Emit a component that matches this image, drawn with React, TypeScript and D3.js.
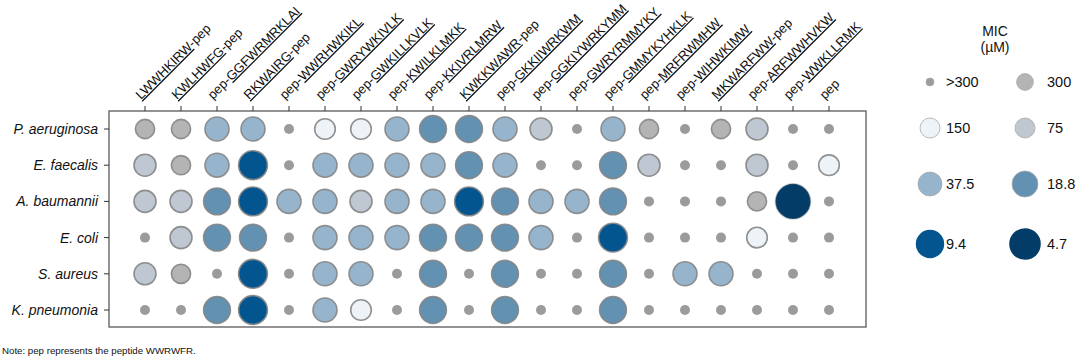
import React from "react";
import * as d3 from "d3";

const peptides = [
  "LWWHKIRW-pep", "KWLHWFG-pep", "pep-GGFWRMRKLAI", "RKWAIRG-pep", "pep-WWRHWKIKL",
  "pep-GWRYWKIVLK", "pep-GWKILLKVLK", "pep-KWILKLMKK", "pep-KKIVRLMRW", "KWKKWAWR-pep",
  "pep-GKKIIWRKWM", "pep-GGKIYWRKYMM", "pep-GWRYRMMYKY", "pep-GMMYKYHKLK", "pep-MRFRWMHW",
  "pep-WIHWKIMW", "MKWARFWW-pep", "pep-ARFWWHVKW", "pep-WWKLLRMK", "pep",
];

const species = ["P. aeruginosa", "E. faecalis", "A. baumannii", "E. coli", "S. aureus", "K. pneumonia"];

const micPAeruginosa = ["300", "300", "37.5", "37.5", ">300", "150", "150", "37.5", "18.8", "18.8", "37.5", "75", ">300", "37.5", "300", ">300", "300", "75", ">300", ">300"];
const micEFaecalis = ["75", "300", "37.5", "9.4", ">300", "37.5", "37.5", "37.5", "37.5", "18.8", "37.5", ">300", ">300", "18.8", "75", ">300", ">300", "75", ">300", "150"];
const micABaumannii = ["75", "75", "18.8", "9.4", "37.5", "37.5", "75", "37.5", "37.5", "9.4", "18.8", "37.5", "37.5", "18.8", ">300", ">300", ">300", "300", "4.7", ">300"];
const micEColi = [">300", "75", "18.8", "18.8", ">300", "37.5", "37.5", "37.5", "18.8", "18.8", "18.8", "37.5", ">300", "9.4", ">300", ">300", ">300", "150", ">300", ">300"];
const micSAureus = ["75", "300", ">300", "9.4", ">300", "37.5", "37.5", ">300", "18.8", ">300", "18.8", ">300", ">300", "18.8", ">300", "37.5", "37.5", ">300", ">300", ">300"];
const micKPneumonia = [">300", ">300", "18.8", "9.4", ">300", "37.5", "150", ">300", "18.8", ">300", "18.8", ">300", ">300", "18.8", ">300", ">300", ">300", ">300", ">300", ">300"];

const micRows = [micPAeruginosa, micEFaecalis, micABaumannii, micEColi, micSAureus, micKPneumonia];

const micLevels = [">300", "300", "150", "75", "37.5", "18.8", "9.4", "4.7"];
const legendPairs = [[">300", "300"], ["150", "75"], ["37.5", "18.8"], ["9.4", "4.7"]];

const FONT = "'Liberation Sans', Arial, Helvetica, sans-serif";

const color = d3.scaleOrdinal<string, string>()
  .domain(micLevels)
  .range(["#9b9b9b", "#b4b4b4", "#eef3f8", "#bfc8d2", "#96b5cd", "#6291b2", "#03558f", "#033c67"]);

const radius = d3.scaleOrdinal<string, number>()
  .domain(micLevels)
  .range([5, 9.6, 10.3, 11, 12, 13.4, 14.4, 17.6]);

const legendRadius = d3.scaleOrdinal<string, number>()
  .domain(micLevels)
  .range([4, 8.4, 10, 10, 12, 13, 14.2, 15.8]);

function splitLabel(label: string): [string, string, string] {
  if (label === "pep") return ["pep", "", ""];
  if (label.startsWith("pep-")) return ["pep-", label.slice(4), ""];
  if (label.endsWith("-pep")) return ["", label.slice(0, -4), "-pep"];
  return ["", label, ""];
}

export default function App() {
  const W = 1080, H = 358;
  const box = { x0: 109, y0: 111, x1: 866, y1: 327 };

  const x = d3.scalePoint<string>().domain(peptides).range([145, 829]);
  const y = d3.scalePoint<string>().domain(species).range([129, 310]);

  const legendX = [930, 1025];
  const legendY = d3.scaleOrdinal<number, number>().domain([0, 1, 2, 3]).range([82, 128, 184, 244]);

  return (
    <div style={{ position: "absolute", left: 0, top: 0 }}>
      <svg width={W} height={H} style={{ display: "block", fontFamily: FONT }}>
        <rect x={0} y={0} width={W} height={H} fill="#fff" />
        <rect x={box.x0} y={box.y0} width={box.x1 - box.x0} height={box.y1 - box.y0}
          fill="none" stroke="#5a5a5a" strokeWidth={1.3} />
        {peptides.map((p) => {
          const cx = x(p)!;
          const [pre, core, post] = splitLabel(p);
          return (
            <g key={p}>
              <line x1={cx} x2={cx} y1={box.y0} y2={box.y0 - 5} stroke="#333" strokeWidth={1} />
              <text transform={`translate(${cx - 4},${100}) rotate(-45)`} fontSize={13} fill="#111">
                {pre && <tspan>{pre}</tspan>}
                {core && <tspan textDecoration="underline">{core}</tspan>}
                {post && <tspan>{post}</tspan>}
              </text>
            </g>
          );
        })}
        {species.map((s) => (
          <g key={s}>
            <line x1={box.x0} x2={box.x0 - 5} y1={y(s)} y2={y(s)} stroke="#333" strokeWidth={1} />
            <text x={98} y={y(s)! + 5} textAnchor="end" fontSize={14} fontStyle="italic" fill="#111">{s}</text>
          </g>
        ))}
        {species.map((s, i) =>
          micRows[i].map((v, j) => {
            const small = v === ">300";
            return (
              <circle key={`${s}-${j}`} cx={x(peptides[j])} cy={y(s)} r={radius(v)}
                fill={color(v)}
                stroke={small ? "none" : "#858585"}
                strokeOpacity={v === "4.7" ? 0.3 : 0.9}
                strokeWidth={1.6} />
            );
          })
        )}
        <text x={995} y={36} textAnchor="middle" fontSize={14} fill="#111">MIC</text>
        <text x={995} y={52} textAnchor="middle" fontSize={14} fill="#111">(µM)</text>
        {legendPairs.map((pair, ri) =>
          pair.map((v, ci) => (
            <g key={v}>
              <circle cx={legendX[ci]} cy={legendY(ri)} r={legendRadius(v)} fill={color(v)}
                stroke={v === "9.4" || v === "4.7" ? "none" : "#aaa"} strokeWidth={0.8} />
              <text x={legendX[ci] + (ci === 0 ? 16 : 22)} y={legendY(ri) + 5} fontSize={14.5} fill="#111">{v}</text>
            </g>
          ))
        )}
        <text x={2} y={354} fontSize={9.7} fill="#111">Note: pep represents the peptide WWRWFR.</text>
      </svg>
    </div>
  );
}
